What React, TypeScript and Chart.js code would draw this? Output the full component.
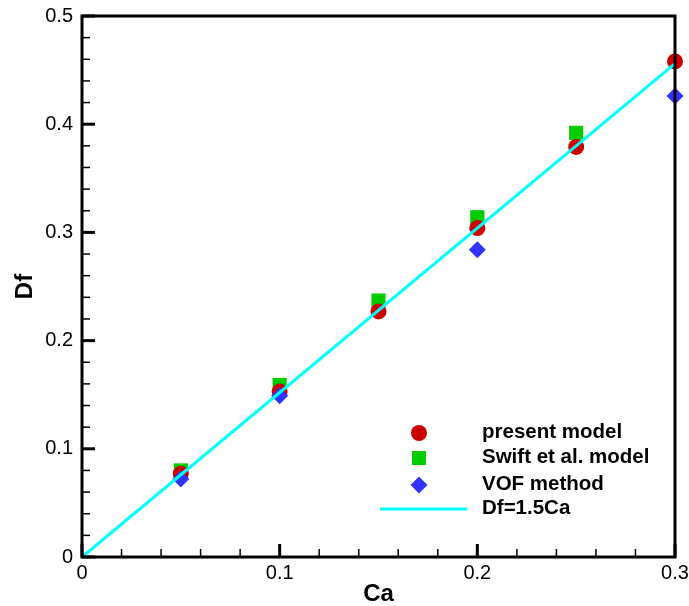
import React, { useEffect, useRef } from 'react';
import { Chart, registerables } from 'chart.js';

Chart.register(...registerables);

// ---- data ----
const presentCa = [0.05, 0.1, 0.15, 0.2, 0.25, 0.3];
const presentModel = [0.077, 0.153, 0.227, 0.304, 0.379, 0.458];
const swiftCa = [0.05, 0.1, 0.15, 0.2, 0.25];
const swiftModel = [0.08, 0.159, 0.237, 0.314, 0.392];
const vofCa = [0.05, 0.1, 0.2, 0.3];
const vofMethod = [0.072, 0.149, 0.284, 0.426];
const fitCa = [0, 0.3];
const fitDf = [0, 0.456];

const seriesLabels = ['present model', 'Swift et al. model', 'VOF method', 'Df=1.5Ca'];

const xTickValues = [0, 0.1, 0.2, 0.3];
const xTickLabels = ['0', '0.1', '0.2', '0.3'];
const yTickValues = [0, 0.1, 0.2, 0.3, 0.4, 0.5];
const yTickLabels = ['0', '0.1', '0.2', '0.3', '0.4', '0.5'];
const xMinorTicks = [0.02, 0.04, 0.06, 0.08, 0.12, 0.14, 0.16, 0.18, 0.22, 0.24, 0.26, 0.28];
const yMinorTicks = [
  0.02, 0.04, 0.06, 0.08, 0.12, 0.14, 0.16, 0.18, 0.22, 0.24, 0.26, 0.28,
  0.32, 0.34, 0.36, 0.38, 0.42, 0.44, 0.46, 0.48,
];

const RED = '#CC0000';
const GREEN = '#00CC00';
const BLUE = '#3333FF';
const CYAN = '#00FFFF';
const FONT = "'Liberation Sans', Arial, Helvetica, sans-serif";

const toPoints = (xs: number[], ys: number[]) => xs.map((x, i) => ({ x, y: ys[i] }));

const framePlugin = {
  id: 'frameTicks',
  afterDatasetsDraw(chart: any) {
    const { ctx, chartArea, scales } = chart;
    const { left, right, top, bottom } = chartArea;
    const xs = scales.x;
    const ys = scales.y;
    ctx.save();
    ctx.strokeStyle = '#000';
    ctx.lineCap = 'butt';
    const seg = (x1: number, y1: number, x2: number, y2: number) => {
      ctx.beginPath();
      ctx.moveTo(x1, y1);
      ctx.lineTo(x2, y2);
      ctx.stroke();
    };
    ctx.lineWidth = 1.5;
    xMinorTicks.forEach((v) => {
      const p = xs.getPixelForValue(v);
      seg(p, bottom, p, bottom - 8);
    });
    yMinorTicks.forEach((v) => {
      const p = ys.getPixelForValue(v);
      seg(left, p, left + 8, p);
    });
    ctx.lineWidth = 3;
    xTickValues.forEach((v) => {
      const p = xs.getPixelForValue(v);
      seg(p, bottom, p, bottom - 13);
    });
    yTickValues.forEach((v) => {
      const p = ys.getPixelForValue(v);
      seg(left, p, left + 13, p);
    });
    ctx.lineWidth = 3;
    ctx.strokeRect(left, top, right - left, bottom - top);
    ctx.restore();
  },
  afterDraw(chart: any) {
    const { ctx, chartArea } = chart;
    const { left, bottom } = chartArea;
    const markerX = left + 337;
    const textX = left + 400;
    const rowY = [bottom - 124, bottom - 99, bottom - 72, bottom - 48];
    ctx.save();
    ctx.fillStyle = RED;
    ctx.beginPath();
    ctx.arc(markerX, rowY[0], 8, 0, Math.PI * 2);
    ctx.fill();
    ctx.fillStyle = GREEN;
    ctx.fillRect(markerX - 7, rowY[1] - 7, 14, 14);
    ctx.fillStyle = BLUE;
    ctx.beginPath();
    ctx.moveTo(markerX, rowY[2] - 8.5);
    ctx.lineTo(markerX + 8.5, rowY[2]);
    ctx.lineTo(markerX, rowY[2] + 8.5);
    ctx.lineTo(markerX - 8.5, rowY[2]);
    ctx.closePath();
    ctx.fill();
    ctx.strokeStyle = CYAN;
    ctx.lineWidth = 3;
    ctx.beginPath();
    ctx.moveTo(left + 298, rowY[3]);
    ctx.lineTo(left + 385, rowY[3]);
    ctx.stroke();
    ctx.fillStyle = '#000';
    ctx.font = `bold 20.5px ${FONT}`;
    ctx.textAlign = 'left';
    ctx.textBaseline = 'middle';
    seriesLabels.forEach((t, i) => ctx.fillText(t, textX, rowY[i] - 1));
    ctx.restore();
  },
};

const zeroPadding = (scale: any) => {
  scale.paddingTop = 0;
  scale.paddingBottom = 0;
  scale.paddingLeft = 0;
  scale.paddingRight = 0;
};

export default function App() {
  const canvasRef = useRef<HTMLCanvasElement | null>(null);

  useEffect(() => {
    const canvas = canvasRef.current;
    if (!canvas) return;
    const chart = new Chart(canvas, {
      type: 'scatter',
      data: {
        datasets: [
          {
            label: seriesLabels[3],
            data: toPoints(fitCa, fitDf),
            showLine: true,
            borderColor: CYAN,
            backgroundColor: CYAN,
            borderWidth: 3,
            pointRadius: 0,
            order: 0,
            clip: false as any,
          },
          {
            label: seriesLabels[2],
            data: toPoints(vofCa, vofMethod),
            pointStyle: 'rectRot',
            pointRadius: 8.5,
            backgroundColor: BLUE,
            borderColor: BLUE,
            borderWidth: 0,
            order: 1,
            clip: false as any,
          },
          {
            label: seriesLabels[0],
            data: toPoints(presentCa, presentModel),
            pointStyle: 'circle',
            pointRadius: 8,
            backgroundColor: RED,
            borderColor: RED,
            borderWidth: 0,
            order: 2,
            clip: false as any,
          },
          {
            label: seriesLabels[1],
            data: toPoints(swiftCa, swiftModel),
            pointStyle: 'rect',
            pointRadius: 10,
            backgroundColor: GREEN,
            borderColor: GREEN,
            borderWidth: 0,
            order: 3,
            clip: false as any,
          },
        ],
      },
      options: {
        responsive: false,
        animation: false,
        devicePixelRatio: 1,
        layout: { padding: { top: 16, right: 14, left: 0, bottom: 0 } },
        plugins: {
          legend: { display: false },
          tooltip: { enabled: false },
        },
        scales: {
          x: {
            type: 'linear',
            min: 0,
            max: 0.3,
            grid: { display: false, drawTicks: false },
            border: { display: false },
            afterBuildTicks: (scale: any) => {
              scale.ticks = xTickValues.map((v) => ({ value: v }));
            },
            afterFit: (scale: any) => {
              scale.height = 49;
              zeroPadding(scale);
            },
            ticks: {
              padding: 4,
              color: '#000',
              maxRotation: 0,
              font: { family: FONT, size: 20 },
              callback: (v: any) => {
                const i = xTickValues.findIndex((t) => Math.abs(t - Number(v)) < 1e-9);
                return i >= 0 ? xTickLabels[i] : '';
              },
            },
            title: {
              display: true,
              text: 'Ca',
              color: '#000',
              font: { family: FONT, size: 24, weight: 'bold', lineHeight: 1 },
              padding: { top: 0, bottom: 0 },
            },
          },
          y: {
            type: 'linear',
            min: 0,
            max: 0.5,
            grid: { display: false, drawTicks: false },
            border: { display: false },
            afterBuildTicks: (scale: any) => {
              scale.ticks = yTickValues.map((v) => ({ value: v }));
            },
            afterFit: (scale: any) => {
              scale.width = 82;
              zeroPadding(scale);
            },
            ticks: {
              padding: 9,
              color: '#000',
              font: { family: FONT, size: 20 },
              callback: (v: any) => {
                const i = yTickValues.findIndex((t) => Math.abs(t - Number(v)) < 1e-9);
                return i >= 0 ? yTickLabels[i] : '';
              },
            },
            title: {
              display: true,
              text: 'Df',
              color: '#000',
              font: { family: FONT, size: 24, weight: 'bold', lineHeight: 1 },
              padding: { top: 13.5, bottom: 0 },
            },
          },
        },
      } as any,
      plugins: [framePlugin],
    });
    return () => chart.destroy();
  }, []);

  return (
    <div style={{ position: 'absolute', left: 0, top: 0, width: 689, height: 606, background: '#fff' }}>
      <canvas ref={canvasRef} width={689} height={606} style={{ display: 'block' }} />
    </div>
  );
}
